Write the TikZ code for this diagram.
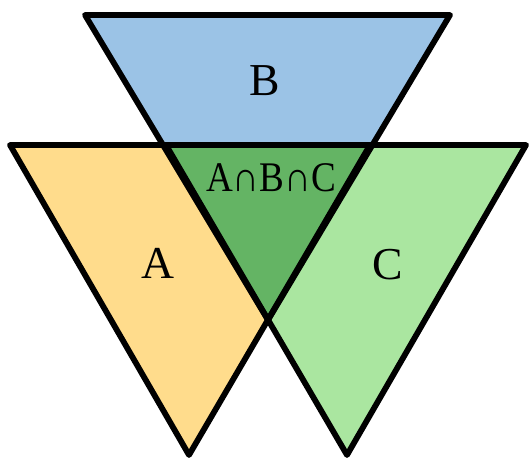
\documentclass[tikz,border=0pt]{standalone}
\usepackage{fontspec}
\setmainfont{Liberation Serif}
\usepackage{xcolor}
\definecolor{setblue}{RGB}{155, 195, 230}
\definecolor{setyellow}{RGB}{255, 220, 140}
\definecolor{setgreen}{RGB}{170, 230, 160}
\definecolor{setdark}{RGB}{100, 180, 100}
\tikzset{
  tri/.style={draw=black, line width=3.3pt, line join=round},
  lbl/.style={font=\fontsize{26}{30}\selectfont, inner sep=0pt},
}

\begin{document}
\begin{tikzpicture}[x=0.02cm, y=-0.02cm]
    \useasboundingbox (0,0) rectangle (530,459);

    % corners of the three triangles
    \coordinate (b1) at (85,15);  \coordinate (b2) at (450,15);  \coordinate (b3) at (268,320);
    \coordinate (a1) at (10,145); \coordinate (a2) at (370,145); \coordinate (a3) at (189,455);
    \coordinate (c1) at (166,145); \coordinate (c2) at (526,145); \coordinate (c3) at (347,455);

    \fill[setblue]   (b1) -- (b2) -- (b3) -- cycle;
    \fill[setyellow] (a1) -- (a2) -- (a3) -- cycle;
    \fill[setgreen]  (c1) -- (c2) -- (c3) -- cycle;
    \fill[setdark]   (c1) -- (a2) -- (b3) -- cycle;

    \draw[tri] (b1) -- (b2) -- (b3) -- cycle;
    \draw[tri] (a1) -- (a2) -- (a3) -- cycle;
    \draw[tri] (c1) -- (c2) -- (c3) -- cycle;

    \node[lbl] (lb)   at (264.5,80.5) {B};
    \node[lbl] (la)   at (157.5,263)  {A};
    \node[lbl] (lc)   at (387.5,264.5) {C};
    \node[lbl, font=\fontsize{24}{28}\selectfont] (labc) at (271,177.5)
      {\scalebox{0.88}[1]{A∩B∩C}};
  \end{tikzpicture}
\end{document}
